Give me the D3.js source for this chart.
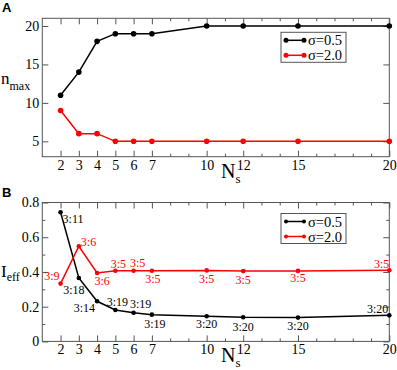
<!DOCTYPE html>
<html>
<head>
<meta charset="utf-8">
<script src="https://cdn.jsdelivr.net/npm/d3@7"></script>
<style>
  body { margin: 0; background: #fff; }
  svg text { font-family: "Liberation Serif", "Times New Roman", serif; }
</style>
</head>
<body>
<div id="vizcontainer"></div>
<script>
const width = 397,
  height = 370;

// data
const ns = [2, 3, 4, 5, 6, 7, 10, 12, 15, 20];
const nmaxSigma05 = [11, 14, 18, 19, 19, 19, 20, 20, 20, 20];
const nmaxSigma20 = [9, 6, 6, 5, 5, 5, 5, 5, 5, 5];
const ieffSigma05 = [0.744, 0.365, 0.231, 0.181, 0.165, 0.154, 0.145, 0.139, 0.137, 0.150];
const ieffSigma20 = [0.333, 0.548, 0.394, 0.407, 0.407, 0.407, 0.409, 0.405, 0.406, 0.410];
const ratioSigma05 = ['3:11', '3:18', '3:14', '3:19', '3:19', '3:19', '3:20', '3:20', '3:20', '3:20'];
const ratioSigma20 = ['3:9', '3:6', '3:6', '3:5', '3:5', '3:5', '3:5', '3:5', '3:5', '3:5'];
const seriesNames = ['σ=0.5', 'σ=2.0'];
const seriesColors = ['#000', '#ff0000'];

const xTicks = [2, 3, 4, 5, 6, 7, 10, 12, 15, 20];
const xMinorTicks = [8, 9, 11, 13, 14, 16, 17, 18, 19];
const nmaxTicks = [5, 10, 15, 20];
const ieffTicks = [0, 0.2, 0.4, 0.6, 0.8];
const ieffMinorTicks = [0.1, 0.3, 0.5, 0.7];

// where each ratio label sits next to its point: [anchor, dx, dy]
const labelPos05 = [['start', 2, 11], ['middle', -5, 16], ['end', -2, 11], ['middle', 2, -4], ['middle', 7, -5],
  ['middle', 3, 13], ['middle', 0, 12], ['middle', 0, 14], ['middle', 0, 12], ['end', -1, -2]];
const labelPos20 = [['end', -1, -4], ['start', 2, 0], ['middle', 5, 12], ['middle', 3, -3], ['middle', 4, -3.5],
  ['middle', 1, 12.5], ['middle', 0, 12.5], ['middle', 0, 12.5], ['middle', 0, 11], ['end', 0, -2]];

const serif = 'Liberation Serif';
const frameColor = '#555';

let viz = d3.select('#vizcontainer')
  .append('svg')
  .attr('id', 'svg')
  .attr('width', width)
  .attr('height', height);

const left = 42.3, right = 389.3;

const x = d3.scaleLinear()
  .domain([1, 20])
  .range([left, right]);

function drawPanel(opts) {
  const y = d3.scaleLinear()
    .domain(opts.yDomain)
    .range([opts.bottom, opts.top]);
  const g = viz.append('g');

  // ticks on all four sides, pointing inward
  const axes = [
    [d3.axisBottom(x).tickValues(xTicks).tickSize(-6).tickPadding(3), opts.bottom],
    [d3.axisBottom(x).tickValues(xMinorTicks).tickSize(-3).tickFormat(''), opts.bottom],
    [d3.axisTop(x).tickValues(xTicks).tickSize(-6).tickFormat(''), opts.top],
    [d3.axisTop(x).tickValues(xMinorTicks).tickSize(-3).tickFormat(''), opts.top]
  ];
  axes.forEach(([ax, ty]) => {
    g.append('g')
      .attr('transform', `translate(0,${ty})`)
      .call(ax.tickSizeOuter(0));
  });
  const yAxes = [
    [d3.axisLeft(y).tickValues(opts.yTicks).tickSize(-6).tickPadding(3).tickFormat(opts.fmt), left],
    [d3.axisRight(y).tickValues(opts.yTicks).tickSize(-6).tickFormat(''), right]
  ];
  if (opts.yMinor) {
    yAxes.push([d3.axisLeft(y).tickValues(opts.yMinor).tickSize(-3).tickFormat(''), left]);
    yAxes.push([d3.axisRight(y).tickValues(opts.yMinor).tickSize(-3).tickFormat(''), right]);
  }
  yAxes.forEach(([ax, tx]) => {
    g.append('g')
      .attr('transform', `translate(${tx},0)`)
      .call(ax.tickSizeOuter(0));
  });
  g.selectAll('.domain').remove();
  g.selectAll('.tick line').attr('stroke', frameColor);
  g.selectAll('.tick text')
    .attr('font-family', serif)
    .attr('font-size', 14)
    .attr('fill', '#000');

  g.append('rect')
    .attr('x', left)
    .attr('y', opts.top)
    .attr('width', right - left)
    .attr('height', opts.bottom - opts.top)
    .attr('fill', 'none')
    .attr('stroke', frameColor)
    .attr('stroke-width', 1);

  const line = d3.line()
    .x((d, i) => x(ns[i]))
    .y(d => y(d));

  opts.series.forEach((vals, k) => {
    g.append('path')
      .datum(vals)
      .attr('d', line)
      .attr('fill', 'none')
      .attr('stroke', seriesColors[k])
      .attr('stroke-width', 1.5);
    g.selectAll(null)
      .data(vals)
      .join('circle')
      .attr('cx', (d, i) => x(ns[i]))
      .attr('cy', d => y(d))
      .attr('r', opts.r)
      .attr('fill', seriesColors[k]);
    if (opts.labels) {
      g.selectAll(null)
        .data(vals)
        .join('text')
        .attr('x', (d, i) => x(ns[i]) + opts.labelPos[k][i][1])
        .attr('y', (d, i) => y(d) + opts.labelPos[k][i][2])
        .attr('text-anchor', (d, i) => opts.labelPos[k][i][0])
        .attr('fill', seriesColors[k])
        .attr('font-family', serif)
        .attr('font-size', 12)
        .text((d, i) => opts.labels[k][i]);
    }
  });

  // legend
  const lg = g.append('g')
    .attr('transform', `translate(281,${opts.top + opts.legendDy})`);
  lg.append('rect')
    .attr('width', 65)
    .attr('height', 30)
    .attr('fill', '#fff')
    .attr('stroke', frameColor);
  seriesNames.forEach((name, k) => {
    const ly = 8 + k * 15;
    lg.append('line')
      .attr('x1', 5).attr('x2', 23)
      .attr('y1', ly).attr('y2', ly)
      .attr('stroke', seriesColors[k])
      .attr('stroke-width', 1.5);
    [5, 23].forEach(cx => {
      lg.append('circle')
        .attr('cx', cx).attr('cy', ly)
        .attr('r', opts.r - 0.3)
        .attr('fill', seriesColors[k]);
    });
    lg.append('text')
      .attr('x', 27)
      .attr('y', ly + 5)
      .attr('font-family', serif)
      .attr('font-size', 14.5)
      .text(name);
  });

  // axis titles
  const xt = g.append('text')
    .attr('x', 221)
    .attr('y', opts.bottom + 21)
    .attr('font-family', serif)
    .attr('font-size', 20);
  xt.append('tspan').text('N');
  xt.append('tspan').attr('dy', 5).attr('font-size', 13).text('s');

  const yt = g.append('text')
    .attr('x', 1)
    .attr('y', y(opts.yTitleAt) + 5)
    .attr('font-family', serif)
    .attr('font-size', opts.yTitleSize);
  yt.append('tspan').text(opts.yTitle[0]);
  yt.append('tspan').attr('dy', opts.yTitleSub).attr('font-size', 12).text(opts.yTitle[1]);

  viz.append('text')
    .attr('x', 2)
    .attr('y', opts.top - 6)
    .style('font-family', '"Liberation Sans", Arial, sans-serif')
    .style('font-weight', 'bold')
    .style('font-size', '13px')
    .text(opts.tag);
}

drawPanel({
  tag: 'A',
  top: 18.3,
  bottom: 156.7,
  yDomain: [3, 21],
  yTicks: nmaxTicks,
  fmt: d3.format('d'),
  series: [nmaxSigma05, nmaxSigma20],
  r: 2.8,
  legendDy: 14,
  yTitle: ['n', 'max'],
  yTitleAt: 13.1,
  yTitleSize: 17,
  yTitleSub: 6
});

drawPanel({
  tag: 'B',
  top: 202.5,
  bottom: 341.4,
  yDomain: [0, 0.8],
  yTicks: ieffTicks,
  yMinor: ieffMinorTicks,
  fmt: d => d === 0 ? '0' : d3.format('.1f')(d),
  series: [ieffSigma05, ieffSigma20],
  labels: [ratioSigma05, ratioSigma20],
  labelPos: [labelPos05, labelPos20],
  r: 2.3,
  legendDy: 11,
  yTitle: ['I', 'eff'],
  yTitleAt: 0.4,
  yTitleSize: 17,
  yTitleSub: 4
});
</script>
</body>
</html>
